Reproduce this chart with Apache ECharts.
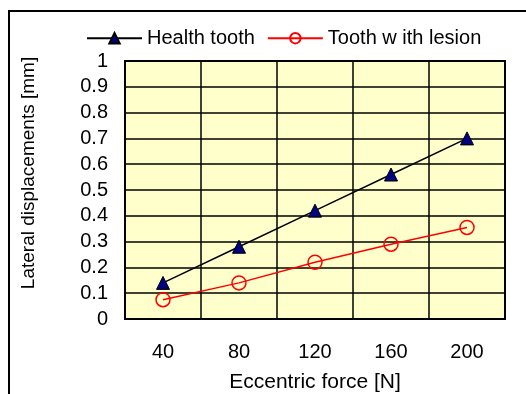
<!DOCTYPE html>
<html>
<head>
    <title>chart</title>
    <script src="https://cdn.jsdelivr.net/npm/echarts@6/dist/echarts.min.js"></script>
    <style>
        html, body { margin: 0; padding: 0; background: #fff; }
        #main { width: 526px; height: 394px; }
    </style>
</head>
<body>
<div id="main"></div>
<script>
    // data
    var forces = ['40', '80', '120', '160', '200'];
    var healthTooth = [0.14, 0.28, 0.42, 0.56, 0.70];
    var lesionTooth = [0.075, 0.14, 0.22, 0.29, 0.355];

    var chart = echarts.init(document.getElementById('main'));
    var font = 'Liberation Sans, Arial, sans-serif';
    var yLabel = {
        fontSize: 20, lineHeight: 16, color: '#000', margin: 17,
        padding: [11, 0, 0, 0]
    };

    chart.setOption({
        backgroundColor: '#fff',
        animation: false,
        textStyle: { fontFamily: font },
        graphic: [
            // outer frame (left and top edges visible)
            { type: 'polyline', shape: { points: [[9, 394], [9, 11], [526, 11]] },
              style: { stroke: '#000', lineWidth: 2, fill: null } }
        ],
        legend: {
            left: 86,
            top: 21,
            padding: 0,
            itemWidth: 55,
            itemHeight: 13,
            itemGap: 12,
            textStyle: { fontSize: 20, color: '#000', fontFamily: font },
            data: ['Health tooth', 'Tooth w ith lesion']
        },
        grid: {
            left: 125, top: 61, width: 380, height: 258,
            containLabel: false,
            outerBoundsMode: 'none',
            show: true,
            backgroundColor: '#FFFFCC',
            borderColor: '#000',
            borderWidth: 2
        },
        xAxis: {
            type: 'category',
            data: forces,
            boundaryGap: true,
            name: 'Eccentric force [N]',
            nameLocation: 'middle',
            nameGap: 45,
            nameMoveOverlap: false,
            nameTextStyle: { fontSize: 21, color: '#000' },
            axisLine: { lineStyle: { color: '#000', width: 2 } },
            axisTick: { show: false },
            axisLabel: { fontSize: 20, color: '#000', margin: 16 },
            splitLine: { show: true, lineStyle: { color: '#000', width: 1.5 } }
        },
        yAxis: [
            {
                // inner ticks 0.1 .. 0.9
                type: 'value',
                min: 0,
                max: 1,
                interval: 0.1,
                name: 'Lateral displacements [mm]',
                nameLocation: 'middle',
                nameGap: 80,
                nameTextStyle: { fontSize: 19, color: '#000', padding: [0, 0, 0, 34] },
                axisLine: { show: true, lineStyle: { color: '#000', width: 2 } },
                axisTick: { show: false },
                axisLabel: Object.assign({ showMinLabel: false, showMaxLabel: false }, yLabel),
                splitLine: { show: true, lineStyle: { color: '#000', width: 1.5 } }
            },
            {
                // end ticks 0 and 1
                type: 'value',
                position: 'left',
                min: 0,
                max: 1,
                interval: 1,
                axisLine: { show: false },
                axisTick: { show: false },
                axisLabel: Object.assign({ showMinLabel: true, showMaxLabel: true }, yLabel),
                splitLine: { show: false }
            }
        ],
        series: [
            {
                name: 'Health tooth',
                type: 'line',
                data: healthTooth,
                symbol: 'triangle',
                symbolSize: 13,
                itemStyle: { color: '#000080', borderColor: '#000', borderWidth: 1 },
                lineStyle: { color: '#000', width: 1.5 }
            },
            {
                name: 'Tooth w ith lesion',
                type: 'line',
                data: lesionTooth,
                symbol: 'circle',
                symbolSize: 14,
                itemStyle: { color: 'rgba(0,0,0,0)', borderColor: '#ff0000', borderWidth: 1.5 },
                lineStyle: { color: '#ff0000', width: 1.5 }
            }
        ]
    });
</script>
</body>
</html>
